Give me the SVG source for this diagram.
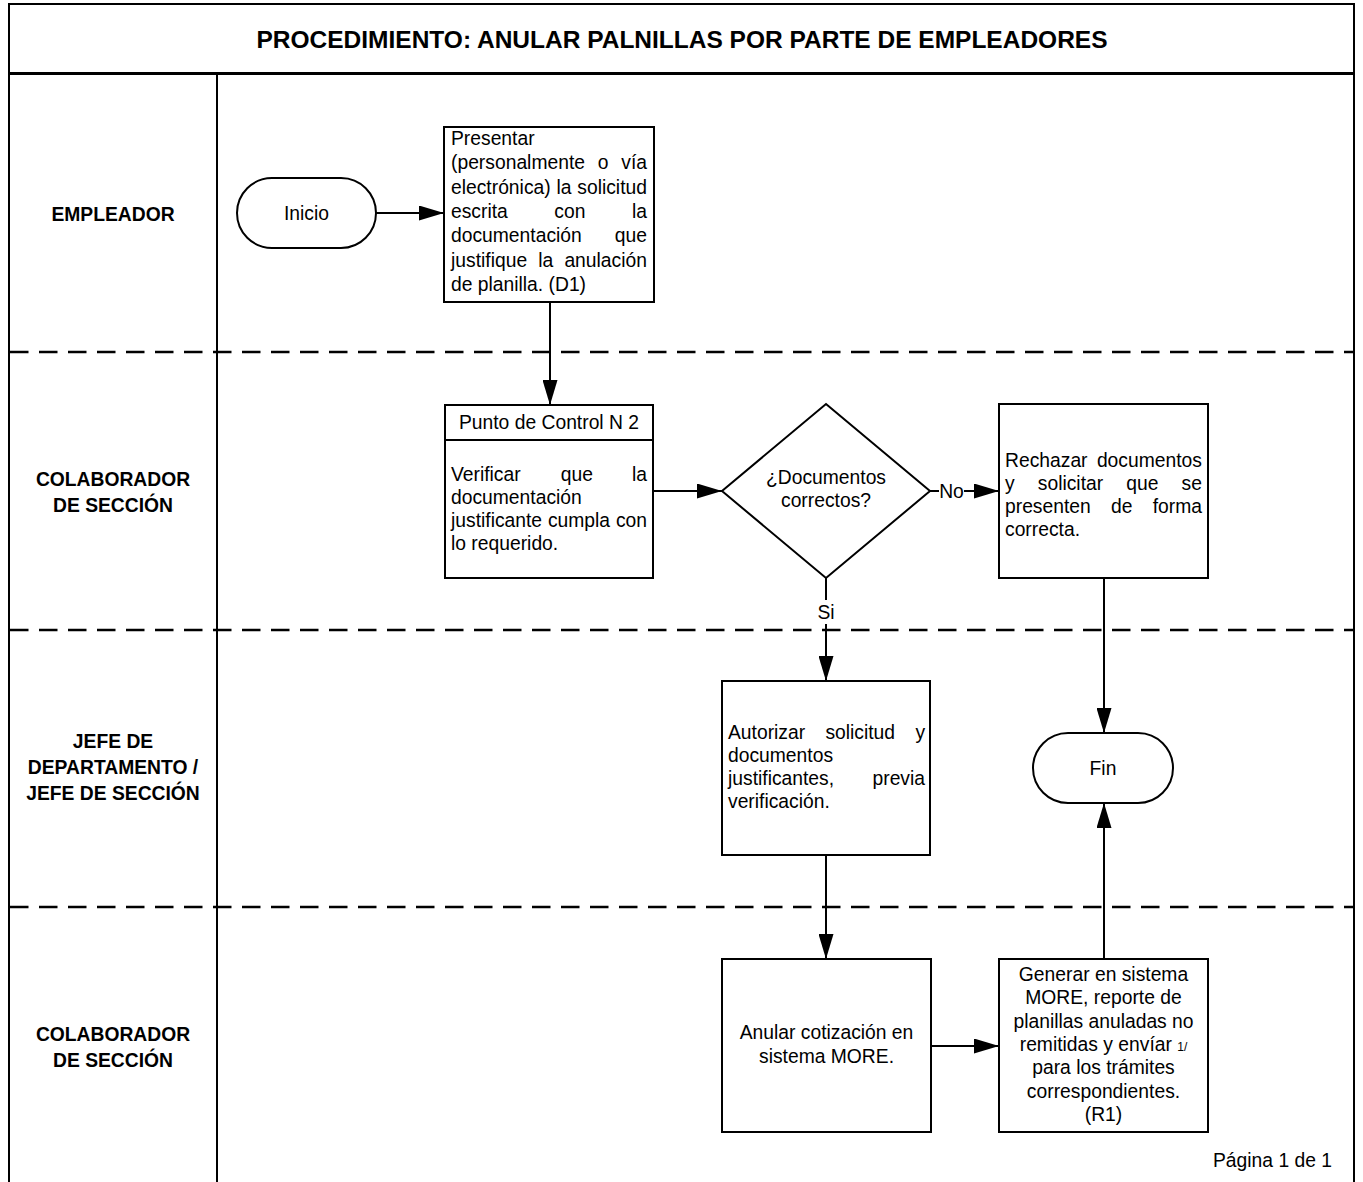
<svg xmlns="http://www.w3.org/2000/svg" width="1363" height="1182" viewBox="0 0 1363 1182">
<style>
text{font-family:'Liberation Sans',Arial,sans-serif;font-size:19.3px;fill:#000}
.b{font-weight:bold}
.m{text-anchor:middle}
.box{fill:#fff;stroke:#000;stroke-width:2}
.ln{fill:none;stroke:#000;stroke-width:2}
.dash{fill:none;stroke:#000;stroke-width:2.5;stroke-dasharray:18.5 10.5}
</style>
<defs>
<marker id="ah" markerUnits="userSpaceOnUse" markerWidth="25" markerHeight="15" refX="25" refY="7.5" orient="auto">
<path d="M0,0 L25,7.5 L0,15 z" fill="#000"/>
</marker>
</defs>
<rect width="1363" height="1182" fill="#fff"/>
<g id="frame">
<path class="ln" d="M9,1190 V4 H1354 V1190"/>
<line x1="9" y1="73.5" x2="1354" y2="73.5" stroke="#000" stroke-width="3"/>
<line class="ln" x1="217" y1="73.5" x2="217" y2="1190"/>
<line class="dash" x1="10" y1="352" x2="1354" y2="352"/>
<line class="dash" x1="10" y1="630" x2="1354" y2="630"/>
<line class="dash" x1="10" y1="907" x2="1354" y2="907"/>
<text class="b m" x="682" y="47.5" textLength="851" lengthAdjust="spacingAndGlyphs" style="font-size:23px">PROCEDIMIENTO: ANULAR PALNILLAS POR PARTE DE EMPLEADORES</text>
<text x="1332" y="1167" text-anchor="end">Página 1 de 1</text>
</g>
<g id="lanes">
<text class="b m" x="113" y="221">EMPLEADOR</text>
<text class="b m" x="113" y="486">COLABORADOR</text>
<text class="b m" x="113" y="512">DE SECCIÓN</text>
<text class="b m" x="113" y="748">JEFE DE</text>
<text class="b m" x="113" y="774">DEPARTAMENTO /</text>
<text class="b m" x="113" y="800">JEFE DE SECCIÓN</text>
<text class="b m" x="113" y="1041">COLABORADOR</text>
<text class="b m" x="113" y="1067">DE SECCIÓN</text>
</g>
<g id="connectors">
<line class="ln" x1="376" y1="213" x2="444" y2="213" marker-end="url(#ah)"/>
<line class="ln" x1="550" y1="302" x2="550" y2="405" marker-end="url(#ah)"/>
<line class="ln" x1="653" y1="491" x2="722" y2="491" marker-end="url(#ah)"/>
<line class="ln" x1="930" y1="491" x2="939" y2="491"/>
<text class="m" x="951.5" y="498">No</text>
<line class="ln" x1="964" y1="491" x2="999" y2="491" marker-end="url(#ah)"/>
<line class="ln" x1="826" y1="578" x2="826" y2="600"/>
<text class="m" x="826" y="619">Si</text>
<line class="ln" x1="826" y1="624" x2="826" y2="681" marker-end="url(#ah)"/>
<line class="ln" x1="1104" y1="578" x2="1104" y2="733" marker-end="url(#ah)"/>
<line class="ln" x1="826" y1="855" x2="826" y2="959" marker-end="url(#ah)"/>
<line class="ln" x1="931" y1="1046" x2="999" y2="1046" marker-end="url(#ah)"/>
<line class="ln" x1="1104" y1="959" x2="1104" y2="803" marker-end="url(#ah)"/>
</g>
<g id="inicio">
<rect class="box" x="237" y="178" width="139" height="70" rx="35"/>
<text class="m" x="306.5" y="220">Inicio</text>
</g>
<g id="presentar">
<rect class="box" x="444" y="127" width="210" height="175"/>
<text x="451" y="145">Presentar</text>
<text y="169.3"><tspan x="451">(personalmente</tspan><tspan x="597.8">o</tspan><tspan x="621.3">vía</tspan></text>
<text y="193.6"><tspan x="451">electrónica)</tspan><tspan x="556.5">la</tspan><tspan x="577.3">solicitud</tspan></text>
<text y="217.9"><tspan x="451">escrita</tspan><tspan x="554.3">con</tspan><tspan x="632">la</tspan></text>
<text y="242.2"><tspan x="451">documentación</tspan><tspan x="614.8">que</tspan></text>
<text y="266.5"><tspan x="451">justifique</tspan><tspan x="538.3">la</tspan><tspan x="564.4">anulación</tspan></text>
<text x="451" y="290.8">de planilla. (D1)</text>
</g>
<g id="punto-control">
<rect class="box" x="445" y="405" width="208" height="173"/>
<line class="ln" x1="445" y1="440" x2="653" y2="440"/>
<text class="m" x="549" y="429">Punto de Control N 2</text>
<text y="481"><tspan x="451">Verificar</tspan><tspan x="560.8">que</tspan><tspan x="632">la</tspan></text>
<text x="451" y="504">documentación</text>
<text y="527"><tspan x="451">justificante</tspan><tspan x="547.9">cumpla</tspan><tspan x="615.9">con</tspan></text>
<text x="451" y="550">lo requerido.</text>
</g>
<g id="decision">
<polygon class="box" points="826,404 930,491 826,578 722,491"/>
<text class="m" x="826" y="484">¿Documentos</text>
<text class="m" x="826" y="507">correctos?</text>
</g>
<g id="rechazar">
<rect class="box" x="999" y="404" width="209" height="174"/>
<text y="467"><tspan x="1005">Rechazar</tspan><tspan x="1096.9">documentos</tspan></text>
<text y="490"><tspan x="1005">y</tspan><tspan x="1037.8">solicitar</tspan><tspan x="1126.3">que</tspan><tspan x="1181.6">se</tspan></text>
<text y="513"><tspan x="1005">presenten</tspan><tspan x="1111">de</tspan><tspan x="1152.7">forma</tspan></text>
<text x="1005" y="536">correcta.</text>
</g>
<g id="autorizar">
<rect class="box" x="722" y="681" width="208" height="174"/>
<text y="738.5"><tspan x="728">Autorizar</tspan><tspan x="825.4">solicitud</tspan><tspan x="915.4">y</tspan></text>
<text x="728" y="761.8">documentos</text>
<text y="785.1"><tspan x="728">justificantes,</tspan><tspan x="872.5">previa</tspan></text>
<text x="728" y="808.4">verificación.</text>
</g>
<g id="fin">
<rect class="box" x="1033" y="733" width="140" height="70" rx="35"/>
<text class="m" x="1103" y="775">Fin</text>
</g>
<g id="anular">
<rect class="box" x="722" y="959" width="209" height="173"/>
<text class="m" x="826.5" y="1039.3">Anular cotización en</text>
<text class="m" x="826.5" y="1062.7">sistema MORE.</text>
</g>
<g id="generar">
<rect class="box" x="999" y="959" width="209" height="173"/>
<text class="m" x="1103.5" y="981">Generar en sistema</text>
<text class="m" x="1103.5" y="1004.3">MORE, reporte de</text>
<text class="m" x="1103.5" y="1027.7">planillas anuladas no</text>
<text class="m" x="1103.5" y="1051">remitidas y envíar <tspan style="font-size:12px">1/</tspan></text>
<text class="m" x="1103.5" y="1074.3">para los trámites</text>
<text class="m" x="1103.5" y="1097.7">correspondientes.</text>
<text class="m" x="1103.5" y="1121">(R1)</text>
</g>
</svg>
